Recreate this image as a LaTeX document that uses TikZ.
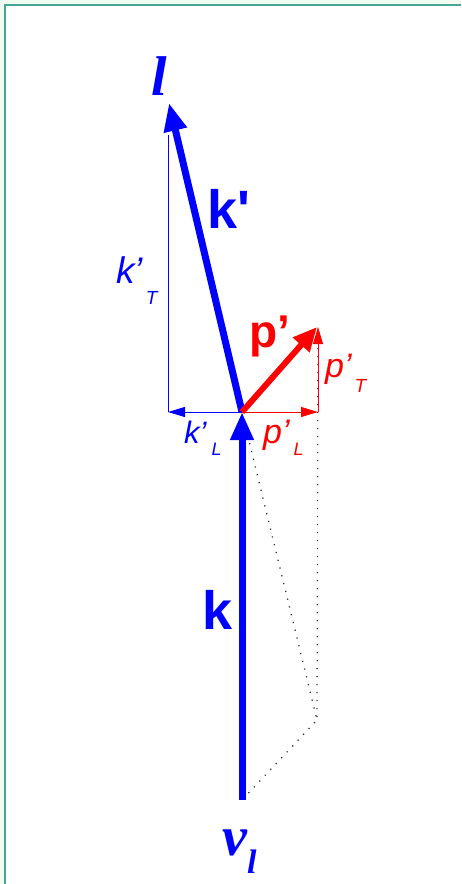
\documentclass[tikz,border=0pt]{standalone}
\usepackage{fontspec}
\setmainfont{Liberation Sans}
\newfontfamily\timesfam{Liberation Serif}
\usetikzlibrary{arrows.meta}
\definecolor{framebg}{RGB}{240,253,240}
\definecolor{frameline}{RGB}{72,166,150}
\begin{document}
\begin{tikzpicture}[x=1pt,y=-1pt,
  thickblue/.style={draw=blue, line width=7pt, -{Triangle[length=28pt,width=22pt]}},
  thickred/.style={draw=red, line width=6pt, -{Triangle[length=24pt,width=21pt]}},
  thinblue/.style={draw=blue, line width=0.9pt},
  thinred/.style={draw=red, line width=0.9pt},
  thintip/.style={-{Triangle[length=17pt,width=10pt]}},
  dotline/.style={draw=black!80, line width=1.3pt, dash pattern=on 1.2pt off 6.8pt},
  lab/.style={inner sep=0pt, anchor=base west},
  bigb/.style={lab, text=blue, font=\fontsize{54}{54}\selectfont\bfseries},
  bigr/.style={lab, text=red, font=\fontsize{46}{46}\selectfont\bfseries},
  smb/.style={lab, text=blue},
  smr/.style={lab, text=red}]
\useasboundingbox (0,0) rectangle (461,884);
\fill[framebg] (0,0) rectangle (461,884);
\fill[white] (5,5) rectangle (461,884);
\draw[frameline, line width=1.5pt] (5,884) -- (5,5) -- (461,5);

\coordinate (V) at (242,412);
\coordinate (kstart) at (242,800);
\coordinate (kptip) at (169,103);
\coordinate (ptip) at (317,327);
\coordinate (kLend) at (168,412);
\coordinate (kTtop) at (168,135);
\coordinate (pLend) at (318,412);
\coordinate (pTtop) at (318,327);
\coordinate (D) at (317,720);
\coordinate (Dtop) at (318,340);

% dotted construction
\draw[dotline] (V) -- (D) -- (kstart);
\draw[dotline] (Dtop) -- (D);

% thin components
\draw[thinblue] (kLend) -- (kTtop);
\draw[thinblue, thintip] (V) -- (kLend);
\draw[thinred, thintip] (V) -- (pLend);
\draw[thinred, thintip] (pLend) -- (pTtop);

% main vectors
\draw[thickblue] (V) -- (kptip);
\draw[thickred] (V) -- (ptip);
\draw[thickblue] (kstart) -- (V);

% labels
\node[lab, text=blue, font=\timesfam\fontsize{56}{56}\selectfont\bfseries\itshape] (lbl) at (151,95) {l};
\node[bigb] (kplab) at (207,228) {k\textquotesingle};
\node[bigr] (pplab) at (249,347) {p’};
\node[bigb] (klab) at (202,629) {k};
\node[lab, text=blue, font=\timesfam\bfseries\itshape] (nulab) at (222,855)
  {{\fontsize{56}{56}\selectfont v}\raisebox{-18pt}{\fontsize{34}{34}\selectfont l}};
\node[smb] (kTlab) at (116,283)
  {{\fontsize{37}{37}\selectfont\itshape k’}\hspace{3pt}\raisebox{-21pt}{\fontsize{19}{19}\selectfont\itshape T}};
\node[smb] (kLlab) at (184,443)
  {{\fontsize{31}{31}\selectfont\itshape k’}\hspace{5pt}\raisebox{-12pt}{\fontsize{18}{18}\selectfont\itshape L}};
\node[smr] (pLlab) at (263,443)
  {{\fontsize{34}{34}\selectfont\itshape p’}\hspace{4pt}\raisebox{-12pt}{\fontsize{18}{18}\selectfont\itshape L}};
\node[smr] (pTlab) at (325,377)
  {{\fontsize{34}{34}\selectfont\itshape p’}\hspace{3pt}\raisebox{-15pt}{\fontsize{19}{19}\selectfont\itshape T}};
\end{tikzpicture}
\end{document}
